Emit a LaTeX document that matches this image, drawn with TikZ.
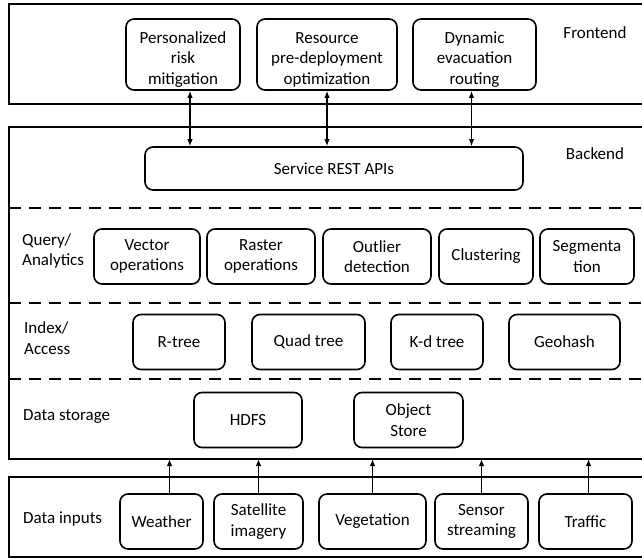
\documentclass[tikz,border=0pt]{standalone}
\usepackage{fontspec}
\setmainfont{Carlito}
\usepackage{tikz}
\usetikzlibrary{arrows.meta,positioning}
\newcommand{\toppad}{\rule{0pt}{21pt}}

\begin{document}
\begin{tikzpicture}[x=1pt,y=-1pt,>={Latex[length=7pt,width=5.5pt]},font=\fontsize{17}{20.5}\selectfont]
\tikzstyle{block}=[draw,line width=1.6pt,rounded corners=8pt,align=center,inner sep=1pt,minimum height=55pt]
\tikzstyle{frame}=[line width=1.8pt]
\tikzstyle{layer}=[line width=2.2pt,dash pattern=on 12pt off 8pt]
\tikzstyle{tag}=[inner sep=0pt,align=left,anchor=west]
\tikzstyle{link}=[line width=1.4pt]
\useasboundingbox (0,0) rectangle (642,559);
% frames
\draw[frame] (642,4) -- (9,4) -- (9,104) -- (642,104);
\draw[frame] (642,127) -- (9,127) -- (9,459) -- (642,459);
\draw[frame] (642,477) -- (9,477) -- (9,557) -- (642,557);
\draw[layer] (9,208) -- (642,208);
\draw[layer] (9,303) -- (642,303);
\draw[layer] (9,379) -- (642,379);
\coordinate (bbot) at (9,459);
% frontend
\node[block,minimum width=114pt,minimum height=71pt] (risk) at (183,54.5) {\toppad Personalized\\risk\\mitigation};
\node[block,minimum width=140pt,minimum height=71pt] (deploy) at (327,54.5) {\toppad Resource\\pre-deployment\\optimization};
\node[block,minimum width=123pt,minimum height=71pt] (evac) at (474.5,54.5) {\toppad Dynamic\\evacuation\\routing};
\node[tag,anchor=center] (front) at (595,33) {Frontend};
% backend
\node[block,minimum width=378pt,minimum height=43pt] (api) at (334,168.5) {Service REST APIs};
\node[tag,anchor=center] (back) at (595,154) {Backend};
\node[tag] (query) at (22,251) {Query/\\Analytics};
\node[block,minimum width=106pt] (vector) at (147,256.5) {Vector\\operations};
\node[block,minimum width=108pt] (raster) at (261,256.5) {Raster\\operations};
\node[block,minimum width=108pt] (outlier) at (377,256.5) {Outlier\\detection};
\node[block,minimum width=94pt] (cluster) at (486,256.5) {Clustering};
\node[block,minimum width=94pt] (segment) at (587,256.5) {Segmenta\\tion};
\node[tag] (index) at (24,338) {Index/\\Access};
\node[block,minimum width=92pt] (rtree) at (179,342) {R-tree};
\node[block,minimum width=113pt] (quad) at (308.5,342) {Quad tree};
\node[block,minimum width=92pt] (kd) at (437,342) {K-d tree};
\node[block,minimum width=111pt] (geo) at (564.5,342) {Geohash};
\node[tag] (storage) at (23,417) {Data storage};
\node[block,minimum width=108pt] (hdfs) at (248,420) {HDFS};
\node[block,minimum width=109pt] (object) at (408.5,420) {Object\\Store};
% inputs
\node[tag] (inputs) at (23,519) {Data inputs};
\node[block,minimum width=83pt] (weather) at (161.5,521.5) {Weather};
\node[block,minimum width=89pt] (sat) at (258.5,521.5) {Satellite\\imagery};
\node[block,minimum width=107pt] (veg) at (372.5,521.5) {Vegetation};
\node[block,minimum width=93pt] (sensor) at (481.5,521.5) {Sensor\\streaming};
\node[block,minimum width=93pt] (traffic) at (585.5,521.5) {Traffic};
% arrows
\draw[link,<->] ([xshift=7pt]risk.south) -- ([xshift=7pt]risk.south |- api.north);
\draw[link,<->] (deploy.south) -- (deploy.south |- api.north);
\draw[link,<->] ([xshift=-3pt]evac.south) -- ([xshift=-3pt]evac.south |- api.north);
\draw[link,->] ([xshift=8pt]weather.north) -- ([xshift=8pt]weather.north |- bbot);
\draw[link,->] (sat.north) -- (sat.north |- bbot);
\draw[link,->] (veg.north) -- (veg.north |- bbot);
\draw[link,->] (sensor.north) -- (sensor.north |- bbot);
\draw[link,->] ([xshift=3pt]traffic.north) -- ([xshift=3pt]traffic.north |- bbot);
\end{tikzpicture}
\end{document}
